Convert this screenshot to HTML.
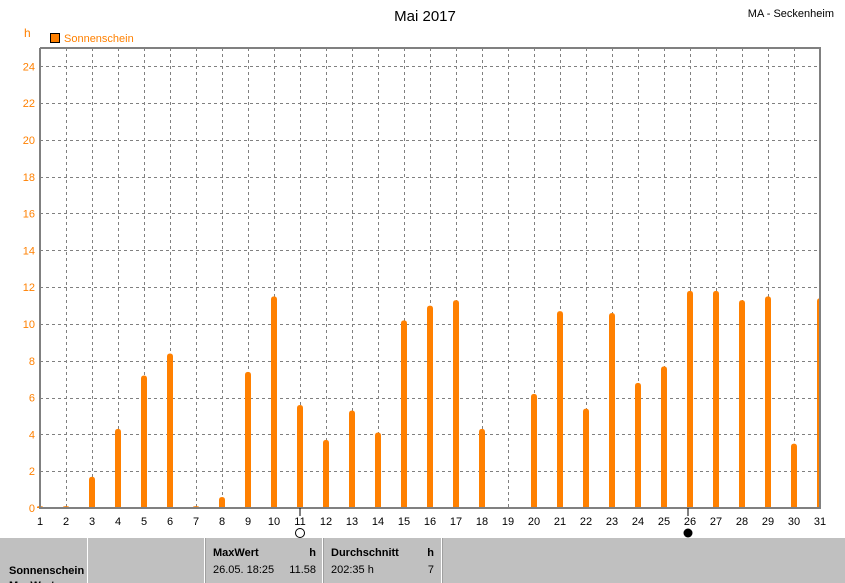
<!DOCTYPE html>
<html><head><meta charset="utf-8"><style>
body{margin:0;background:#fff;width:845px;height:583px;overflow:hidden;font-family:"Liberation Sans",sans-serif}
svg{position:absolute;left:0;top:0}
</style></head><body>
<svg width="845" height="583" viewBox="0 0 845 583" xmlns="http://www.w3.org/2000/svg" font-family="Liberation Sans, sans-serif">
<text x="425" y="21" font-size="15" text-anchor="middle" fill="#000">Mai 2017</text>
<text x="834" y="17" font-size="11" text-anchor="end" fill="#000">MA - Seckenheim</text>
<text x="24" y="37" font-size="12" fill="#ff8000">h</text>
<rect x="50.5" y="33.5" width="9" height="9" fill="#ff8000" stroke="#000"/>
<text x="64" y="42" font-size="11" fill="#ff8000">Sonnenschein</text>
<g stroke="#808080" stroke-dasharray="3,3" stroke-width="1">
<path d="M40 471.5H820M40 434.5H820M40 398.5H820M40 361.5H820M40 324.5H820M40 287.5H820M40 250.5H820M40 213.5H820M40 177.5H820M40 140.5H820M40 103.5H820M40 66.5H820"/>
<path id="vg" d=""/>
</g>
<g id="bars"></g>
<g stroke="#808080" stroke-width="2" fill="none"><path d="M40 48V508H820V48H40"/></g>
<g id="ylab" font-size="11" fill="#ff8000" text-anchor="end"></g>
<g id="xlab" font-size="11" fill="#000" text-anchor="middle"></g>
<circle cx="300" cy="533" r="4.5" fill="none" stroke="#000"/>
<circle cx="688" cy="533" r="4.5" fill="#000"/>
<line x1="300" y1="508" x2="300" y2="516" stroke="#000"/>
<line x1="688" y1="508" x2="688" y2="516" stroke="#000"/>
<rect x="0" y="538" width="845" height="45" fill="#c0c0c0"/>
<g stroke="#fff" stroke-width="1"><path d="M87.5 538V583M204.5 538V583M322.5 538V583M441.5 538V583"/></g>
<g stroke="#a0a0a0" stroke-width="1"><path d="M205.5 538V583M323.5 538V583M442.5 538V583"/></g>
<g font-size="11" fill="#000">
<text x="9" y="574" font-weight="bold">Sonnenschein</text>
<text x="9" y="589" font-weight="bold">MaxWert</text>
<text x="213" y="556" font-weight="bold">MaxWert</text>
<text x="316" y="556" font-weight="bold" text-anchor="end">h</text>
<text x="213" y="573">26.05.  18:25</text>
<text x="316" y="573" text-anchor="end">11.58</text>
<text x="331" y="556" font-weight="bold">Durchschnitt</text>
<text x="434" y="556" font-weight="bold" text-anchor="end">h</text>
<text x="331" y="573">202:35 h</text>
<text x="434" y="573" text-anchor="end">7</text>
</g>
</svg>
<script>
const ns="http://www.w3.org/2000/svg";
const vals=[0.1,0.1,1.7,4.3,7.2,8.4,0.1,0.6,7.4,11.5,5.6,3.7,5.3,4.1,10.2,11.0,11.3,4.3,0,6.2,10.7,5.4,10.6,6.8,7.7,11.8,11.8,11.3,11.5,3.5,11.4];
let d="";for(let i=2;i<=30;i++){const x=40+(i-1)*26+0.5;d+=`M${x} 48V508`;}
document.getElementById("vg").setAttribute("d",d);
const b=document.getElementById("bars");
vals.forEach((v,i)=>{if(v<=0)return;const x=40+i*26;const h=Math.max(1,v*18.4);const y=508-h;
const p=document.createElementNS(ns,"path");
const r=Math.min(3,h/2);
p.setAttribute("d",`M${x-3} 508V${y+r}Q${x-3} ${y} ${x} ${y}Q${x+3} ${y} ${x+3} ${y+r}V508Z`);
p.setAttribute("fill","#ff8000");if(i==30){p.setAttribute("clip-path","url(#c)");}b.appendChild(p);});
const defs=document.createElementNS(ns,"defs");defs.innerHTML='<clipPath id="c"><rect x="0" y="0" width="820" height="583"/></clipPath>';document.querySelector("svg").appendChild(defs);
const yl=document.getElementById("ylab");
for(let v=0;v<=24;v+=2){const t=document.createElementNS(ns,"text");t.setAttribute("x",35);t.setAttribute("y",508-v*18.4+4);t.textContent=v;yl.appendChild(t);}
const xl=document.getElementById("xlab");
for(let i=1;i<=31;i++){const t=document.createElementNS(ns,"text");t.setAttribute("x",40+(i-1)*26);t.setAttribute("y",525);t.textContent=i;xl.appendChild(t);}
</script>
</body></html>
